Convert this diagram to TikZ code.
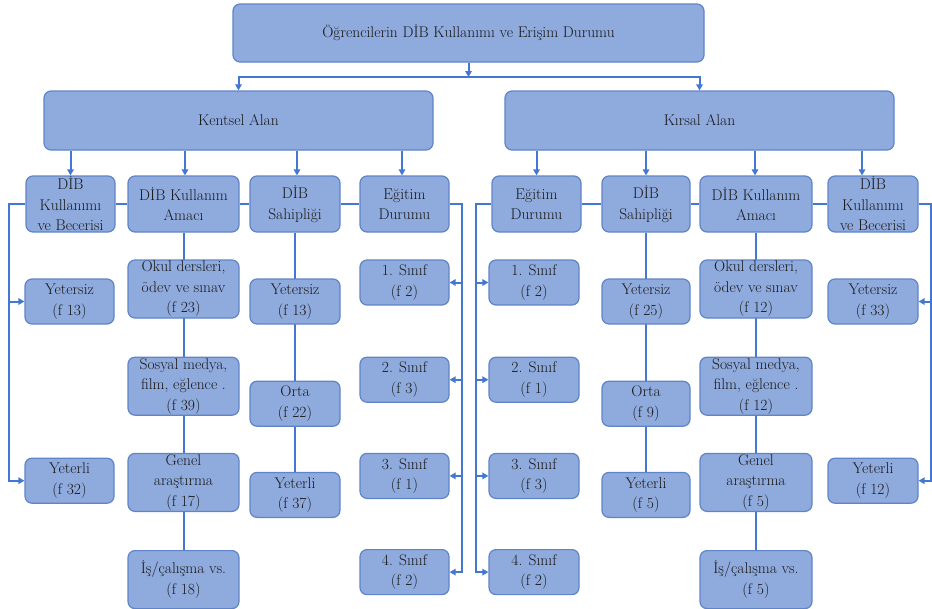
\documentclass[tikz,border=0pt]{standalone}
\usepackage{fontspec}
\usepackage{tikz}
\usetikzlibrary{arrows.meta,positioning,backgrounds}
\definecolor{kutuf}{HTML}{8FAADC}
\definecolor{kutud}{HTML}{5F84C8}
\definecolor{hat}{HTML}{4477D2}
\newcommand{\kfont}{\fontsize{15.5pt}{20.5pt}\selectfont\addfontfeatures{FakeBold=0.8}}
\tikzset{
  kutu/.style={draw=kutud, line width=1.2pt, rounded corners=7pt, fill=kutuf,
               align=center, inner sep=0pt, font=\kfont, text=black!90},
  ustk/.style={kutu, minimum height=58pt},
  bas/.style={kutu, minimum height=56pt},
  altk/.style={kutu, minimum height=45pt},
  altu/.style={kutu, minimum height=58pt},
  ar/.style={-{Triangle[length=6pt,width=6.5pt]}, line width=2pt, draw=hat},
  ln/.style={line width=2pt, draw=hat},
}

\begin{document}
\begin{tikzpicture}[x=1pt, y=1pt]
\useasboundingbox (0,0) rectangle (932,-608);

% ---- kök ----
\node[ustk, minimum width=471pt] (kok) at (468.5,-33)
  {Öğrencilerin DİB Kullanımı ve Erişim Durumu};
\node[ustk, minimum width=389pt, minimum height=59pt] (kent) at (238.5,-120.5) {Kentsel Alan};
\node[ustk, minimum width=389pt, minimum height=59pt] (kirs) at (699.5,-120.5) {Kırsal Alan};

% ---- başlıklar: kentsel ----
\node[bas, minimum width=89pt]  (kBec) at (70.5,-204)  {DİB\\Kullanımı\\ve Becerisi};
\node[bas, minimum width=111pt] (kAma) at (183.5,-204) {DİB Kullanım\\Amacı};
\node[bas, minimum width=90pt]  (kSah) at (295,-204)   {DİB\\Sahipliği};
\node[bas, minimum width=89pt]  (kEgi) at (404.5,-204) {Eğitim\\Durumu};

% ---- başlıklar: kırsal ----
\node[bas, minimum width=89pt]  (rEgi) at (536.5,-204) {Eğitim\\Durumu};
\node[bas, minimum width=88pt]  (rSah) at (646,-204)   {DİB\\Sahipliği};
\node[bas, minimum width=112pt] (rAma) at (756,-204)   {DİB Kullanım\\Amacı};
\node[bas, minimum width=90pt]  (rBec) at (873,-204)   {DİB\\Kullanımı\\ve Becerisi};

% ---- kentsel: kullanım ve beceri ----
\node[altk, minimum width=89pt] (kBec1) at (69.5,-301.5) {Yetersiz\\(f 13)};
\node[altk, minimum width=89pt, below=133pt of kBec1] (kBec2) {Yeterli\\(f 32)};

% ---- kentsel: kullanım amacı ----
\node[altu, minimum width=111pt] (kAma1) at (183.5,-289) {Okul dersleri,\\ödev ve sınav\\(f 23)};
\node[altu, minimum width=111pt, below=38pt of kAma1] (kAma2) {Sosyal medya,\\film, eğlence .\\(f 39)};
\node[altu, minimum width=111pt, below=37pt of kAma2] (kAma3) {Genel\\araştırma\\(f 17)};
\node[altu, minimum width=111pt, below=38pt of kAma3] (kAma4) {İş/çalışma vs.\\(f 18)};

% ---- kentsel: sahiplik ----
\node[altk, minimum width=90pt] (kSah1) at (295,-301.5) {Yetersiz\\(f 13)};
\node[altk, minimum width=90pt, below=56pt of kSah1] (kSah2) {Orta\\(f 22)};
\node[altk, minimum width=90pt, below=45pt of kSah2] (kSah3) {Yeterli\\(f 37)};

% ---- kentsel: eğitim durumu ----
\node[altk, minimum width=89pt] (kEgi1) at (404.5,-282.5) {1. Sınıf\\(f 2)};
\node[altk, minimum width=89pt, below=51pt of kEgi1] (kEgi2) {2. Sınıf\\(f 3)};
\node[altk, minimum width=89pt, below=50pt of kEgi2] (kEgi3) {3. Sınıf\\(f 1)};
\node[altk, minimum width=89pt, below=50pt of kEgi3] (kEgi4) {4. Sınıf\\(f 2)};

% ---- kırsal: eğitim durumu ----
\node[altk, minimum width=90pt] (rEgi1) at (534,-282.5) {1. Sınıf\\(f 2)};
\node[altk, minimum width=90pt, below=51pt of rEgi1] (rEgi2) {2. Sınıf\\(f 1)};
\node[altk, minimum width=90pt, below=50pt of rEgi2] (rEgi3) {3. Sınıf\\(f 3)};
\node[altk, minimum width=90pt, below=50pt of rEgi3] (rEgi4) {4. Sınıf\\(f 2)};

% ---- kırsal: sahiplik ----
\node[altk, minimum width=88pt] (rSah1) at (646,-301.5) {Yetersiz\\(f 25)};
\node[altk, minimum width=88pt, below=56pt of rSah1] (rSah2) {Orta\\(f 9)};
\node[altk, minimum width=88pt, below=45pt of rSah2] (rSah3) {Yeterli\\(f 5)};

% ---- kırsal: kullanım amacı ----
\node[altu, minimum width=112pt] (rAma1) at (756,-289) {Okul dersleri,\\ödev ve sınav\\(f 12)};
\node[altu, minimum width=112pt, below=38pt of rAma1] (rAma2) {Sosyal medya,\\film, eğlence .\\(f 12)};
\node[altu, minimum width=112pt, below=37pt of rAma2] (rAma3) {Genel\\araştırma\\(f 5)};
\node[altu, minimum width=112pt, below=38pt of rAma3] (rAma4) {İş/çalışma vs.\\(f 5)};

% ---- kırsal: kullanım ve beceri ----
\node[altk, minimum width=90pt] (rBec1) at (873,-301.5) {Yetersiz\\(f 33)};
\node[altk, minimum width=90pt, below=133pt of rBec1] (rBec2) {Yeterli\\(f 12)};

% ---- bağlantılar ----
\coordinate (hatU) at (468.5,-77);
\draw[ar] (kok.south) -- (hatU);
\draw[ar] (hatU) -| (kent.north);
\draw[ar] (hatU) -| (kirs.north);

\draw[ar] (kent.south -| kBec) -- (kBec.north);
\draw[ar] ([xshift=1.5pt]kent.south -| kAma) -- ([xshift=1.5pt]kAma.north);
\draw[ar] ([xshift=2pt]kent.south -| kSah) -- ([xshift=2pt]kSah.north);
\draw[ar] ([xshift=-2.5pt]kent.south -| kEgi) -- ([xshift=-2.5pt]kEgi.north);

\draw[ar] (kirs.south -| rEgi) -- (rEgi.north);
\draw[ar] (kirs.south -| rSah) -- (rSah.north);
\draw[ar] ([xshift=-1pt]kirs.south -| rAma) -- ([xshift=-1pt]rAma.north);
\draw[ar] ([xshift=-11pt]kirs.south -| rBec) -- ([xshift=-11pt]rBec.north);

% başlıklar arası yatay hat
\draw[ln] (kBec.east) -- (kAma.west);
\draw[ln] (kAma.east) -- (kSah.west);
\draw[ln] (kSah.east) -- (kEgi.west);
\draw[ln] (rEgi.east) -- (rSah.west);
\draw[ln] (rSah.east) -- (rAma.west);
\draw[ln] (rAma.east) -- (rBec.west);

% yan kollar
\coordinate (solK) at (9,-204);
\draw[ar] (kBec.west) -- (solK) |- (kBec2.west);
\draw[ar] (solK |- kBec1) -- (kBec1.west);

\coordinate (sagK) at (462,-204);
\draw[ar] (kEgi.east) -- (sagK) |- (kEgi4.east);
\draw[ar] (sagK |- kEgi1) -- (kEgi1.east);
\draw[ar] (sagK |- kEgi2) -- (kEgi2.east);
\draw[ar] (sagK |- kEgi3) -- (kEgi3.east);

\coordinate (solR) at (476,-204);
\draw[ar] (rEgi.west) -- (solR) |- (rEgi4.west);
\draw[ar] (solR |- rEgi1) -- (rEgi1.west);
\draw[ar] (solR |- rEgi2) -- (rEgi2.west);
\draw[ar] (solR |- rEgi3) -- (rEgi3.west);

\coordinate (sagR) at (931,-204);
\draw[ar] (rBec.east) -- (sagR) |- (rBec2.east);
\draw[ar] (sagR |- rBec1) -- (rBec1.east);

% sütun dikey hatları
\begin{scope}[on background layer]
\draw[ln] (kAma.south) -- (kAma4.north);
\draw[ln] (kSah.south) -- (kSah3.north);
\draw[ln] (rSah.south) -- (rSah3.north);
\draw[ln] (rAma.south) -- (rAma4.north);
\end{scope}

\end{tikzpicture}
\end{document}
